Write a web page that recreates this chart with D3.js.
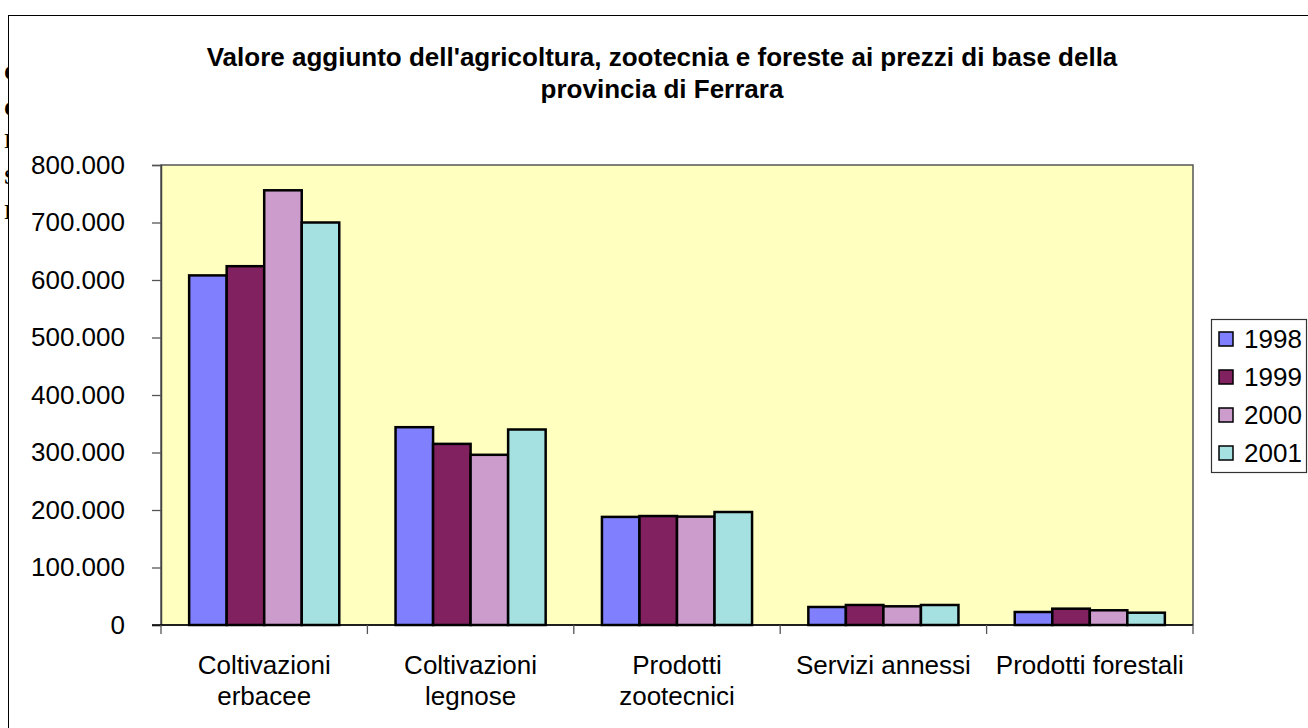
<!DOCTYPE html>
<html>
<head>
<meta charset="utf-8">
<script src="https://cdn.jsdelivr.net/npm/d3@7"></script>
<style>
  body { margin: 0; background: #fff; }
  text { font-family: Arial, "Liberation Sans", sans-serif; }
</style>
</head>
<body>
<div id="chart"></div>
<script>
// data
var categories = [["Coltivazioni", "erbacee"], ["Coltivazioni", "legnose"], ["Prodotti", "zootecnici"], ["Servizi annessi"], ["Prodotti forestali"]];
var years = ["1998", "1999", "2000", "2001"];
var v1998 = [608000, 344000, 188000, 31300, 22600];
var v1999 = [624000, 315000, 189500, 34800, 28400];
var v2000 = [756000, 296000, 188500, 32500, 25600];
var v2001 = [700000, 340000, 196500, 34800, 21400];
var yTicks = [0, 100000, 200000, 300000, 400000, 500000, 600000, 700000, 800000];
var colors = ["#8080ff", "#812160", "#cc9ccc", "#a6e1e1"];
var titleLines = ["Valore aggiunto dell'agricoltura, zootecnia e foreste ai prezzi di base della", "provincia di Ferrara"];

var series = [v1998, v1999, v2000, v2001];

var W = 1308, H = 728;
var plot = {left: 161, top: 165, right: 1193, bottom: 625};

var svg = d3.select("#chart").append("svg")
    .attr("width", W)
    .attr("height", H);

// bits of the page behind the chart, cut off on the left
var behind = ["C", "C", "I", "S", "I"];
svg.selectAll("text.behind")
    .data(behind)
  .enter().append("text")
    .attr("class", "behind")
    .attr("x", 4)
    .attr("y", function(d, i) { return [80, 116, 148, 184, 219][i]; })
    .style("font-family", "'Liberation Serif', serif")
    .style("font-size", "22px")
    .style("font-weight", "bold")
    .text(function(d) { return d; });

// chart frame
svg.append("rect")
    .attr("x", 8.5).attr("y", 15.5)
    .attr("width", W).attr("height", H)
    .attr("fill", "#fff")
    .attr("stroke", "#000")
    .attr("stroke-width", 1);

// title
svg.selectAll("text.title")
    .data(titleLines)
  .enter().append("text")
    .attr("class", "title")
    .attr("x", 662)
    .attr("y", function(d, i) { return 66 + i * 32; })
    .attr("text-anchor", "middle")
    .style("font-size", "26px")
    .style("font-weight", "bold")
    .text(function(d) { return d; });

var x0 = d3.scaleBand()
    .domain(d3.range(categories.length))
    .range([plot.left, plot.right]);

var x1 = d3.scaleBand()
    .domain(d3.range(years.length))
    .range([0, x0.bandwidth()])
    .paddingOuter(0.75);

var y = d3.scaleLinear()
    .domain([0, 800000])
    .range([plot.bottom, plot.top]);

// plot area
svg.append("rect")
    .attr("x", plot.left).attr("y", plot.top)
    .attr("width", plot.right - plot.left)
    .attr("height", plot.bottom - plot.top)
    .attr("fill", "#ffffc0")
    .attr("stroke", "#555")
    .attr("stroke-width", 1.5);

// y axis
var fmt = function(d) { return d === 0 ? "0" : d3.format(",")(d).replace(/,/g, "."); };
var yAxis = d3.axisLeft(y).tickValues(yTicks).tickSize(9).tickPadding(27).tickFormat(fmt);
var gy = svg.append("g")
    .attr("transform", "translate(" + plot.left + ",0)")
    .call(yAxis);
gy.select(".domain").attr("stroke", "#444").attr("stroke-width", 1.5);
gy.selectAll(".tick line").attr("stroke", "#555").attr("stroke-width", 1.3);
gy.selectAll(".tick text")
    .style("font-size", "26px")
    .style("font-family", "Arial, 'Liberation Sans', sans-serif")
    .attr("fill", "#000");

// bars
var groups = svg.selectAll("g.cat")
    .data(categories)
  .enter().append("g")
    .attr("class", "cat")
    .attr("transform", function(d, i) { return "translate(" + x0(i) + ",0)"; });

groups.selectAll("rect")
    .data(function(d, i) { return series.map(function(s, j) { return {j: j, v: s[i]}; }); })
  .enter().append("rect")
    .attr("x", function(d) { return x1(d.j); })
    .attr("y", function(d) { return y(d.v); })
    .attr("width", x1.bandwidth())
    .attr("height", function(d) { return y(0) - y(d.v); })
    .attr("fill", function(d) { return colors[d.j]; })
    .attr("stroke", "#000")
    .attr("stroke-width", 2.5);

// x axis
svg.append("line")
    .attr("x1", plot.left - 9).attr("x2", plot.right)
    .attr("y1", plot.bottom).attr("y2", plot.bottom)
    .attr("stroke", "#000").attr("stroke-width", 1.5);

svg.selectAll("line.xtick")
    .data(d3.range(categories.length + 1))
  .enter().append("line")
    .attr("class", "xtick")
    .attr("x1", function(d) { return plot.left + d * x0.step(); })
    .attr("x2", function(d) { return plot.left + d * x0.step(); })
    .attr("y1", plot.bottom).attr("y2", plot.bottom + 9)
    .attr("stroke", "#555").attr("stroke-width", 1.3);

var labels = svg.selectAll("text.cat")
    .data(categories)
  .enter().append("text")
    .attr("class", "cat")
    .attr("text-anchor", "middle")
    .style("font-size", "26px");

labels.selectAll("tspan")
    .data(function(d, i) { return d.map(function(t) { return {t: t, i: i}; }); })
  .enter().append("tspan")
    .attr("x", function(d) { return x0(d.i) + x0.bandwidth() / 2; })
    .attr("y", function(d, k) { return 674 + k * 31; })
    .text(function(d) { return d.t; });

// legend
var legend = svg.append("g").attr("transform", "translate(1211,319)");
legend.append("rect")
    .attr("x", 0.5).attr("y", 0.5)
    .attr("width", 95).attr("height", 153)
    .attr("fill", "#fff")
    .attr("stroke", "#333").attr("stroke-width", 1.2);

var items = legend.selectAll("g.item")
    .data(years)
  .enter().append("g")
    .attr("class", "item")
    .attr("transform", function(d, i) { return "translate(0," + (20 + i * 38) + ")"; });

items.append("rect")
    .attr("x", 8).attr("y", -7)
    .attr("width", 14).attr("height", 14)
    .attr("fill", function(d, i) { return colors[i]; })
    .attr("stroke", "#000").attr("stroke-width", 1.5);

items.append("text")
    .attr("x", 33).attr("y", 9)
    .style("font-size", "26px")
    .text(function(d) { return d; });
</script>
</body>
</html>
